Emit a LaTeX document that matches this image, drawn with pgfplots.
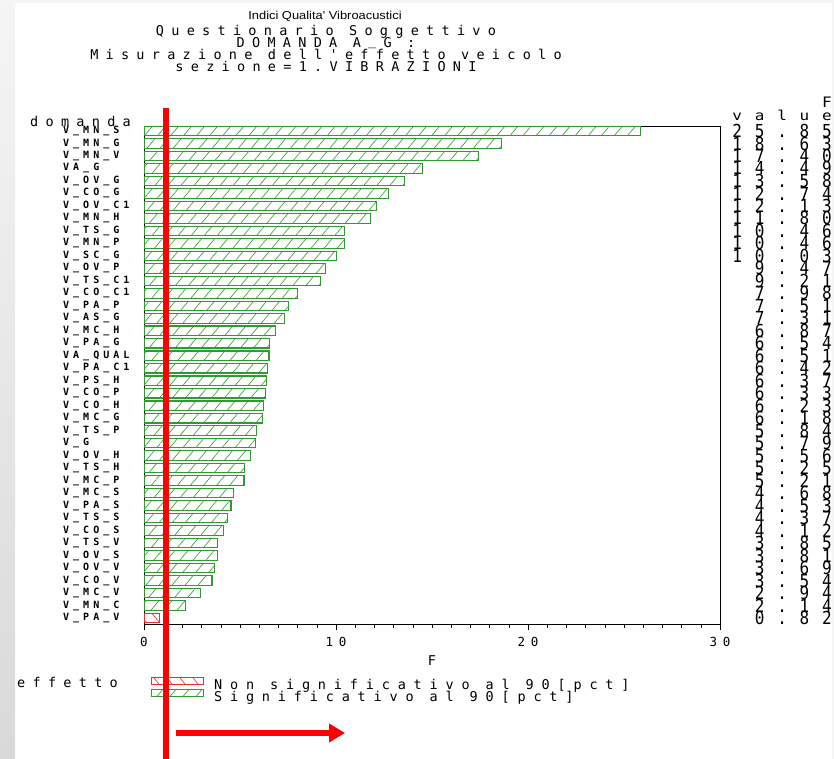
\documentclass[border=0pt]{standalone}
\usepackage{pgfplots}
\pgfplotsset{compat=1.18}
\usepackage{graphicx}
\usepackage{fontspec}
\usetikzlibrary{patterns.meta,arrows.meta}
\newfontfamily\monoA[LetterSpace=54]{DejaVu Sans Mono}
\newfontfamily\monoG[LetterSpace=58]{DejaVu Sans Mono}
\newfontfamily\monoL[LetterSpace=40]{DejaVu Sans Mono}
\newfontfamily\monoT[LetterSpace=44]{DejaVu Sans Mono}
\newfontfamily\monoV[LetterSpace=80]{DejaVu Sans Mono}
\newfontfamily\hsans{Liberation Sans}
\newcommand\fA{\monoA\fontsize{13.5pt}{13pt}\selectfont}
\newcommand\fG{\monoG\fontsize{13.5pt}{13pt}\selectfont}
\newcommand\fL{\monoL\bfseries\fontsize{10pt}{10pt}\selectfont}
\newcommand\fT{\monoT\fontsize{12.5pt}{12.5pt}\selectfont}
\newcommand\fV{\monoV\fontsize{16pt}{16pt}\selectfont}
\definecolor{sasgreen}{RGB}{45,155,45}
\definecolor{sasred}{RGB}{235,45,45}
\begin{document}
\begin{tikzpicture}[x=1pt,y=1pt]
% background
\fill[white] (0,0) rectangle (834,759);
\shade[top color=black!4, bottom color=black!15] (0,0) rectangle (15,759);
\fill[black!4] (15,756) rectangle (834,759);
\fill[black!4] (832,0) rectangle (834,756);
% titles
\node[font=\hsans\fontsize{11.5pt}{11.5pt}\selectfont, anchor=base, xscale=1.12] at (325,739) {Indici Qualita' Vibroacustici};
\node[font=\fA, anchor=base] at (326,723) {Questionario Soggettivo};
\node[font=\fA, anchor=base] at (326,711) {DOMANDA A\kern0.54em\raisebox{2pt}{\_}\kern0.54em G :};
\node[font=\fA, anchor=base] at (326,699) {Misurazione dell'effetto veicolo};
\node[font=\fA, anchor=base] at (326,687) {sezione=1.VIBRAZIONI};
\node[font=\fA, anchor=base west, inner sep=0pt] at (30,632) {domanda};
\node[font=\fV, anchor=base east, inner sep=0pt, yscale=0.9] at (832,651) {F};
\node[font=\fV, anchor=base east, inner sep=0pt, yscale=0.85] at (832,638) {value};
\node[font=\fA, anchor=base west, inner sep=0pt] at (17,71) {effetto};

\begin{axis}[
  at={(144pt,135pt)}, anchor=south west, scale only axis,
  width=576pt, height=498pt,
  xbar, bar width=9.5pt, bar shift=0pt,
  xmin=0, xmax=30, ymin=0.6, ymax=40.48, y dir=reverse,
  axis line style={black, line width=0.8pt},
  xtick={0,10,20,30}, xticklabels={0,10,20,30}, minor x tick num=9,
  xtick pos=lower, ytick pos=left, tick align=outside,
  major tick length=6pt, minor tick length=4pt,
  tick style={black, line width=0.6pt},
  xticklabel style={font=\fT, anchor=base, yshift=-16pt},
  xlabel={F},
  xlabel style={font=\fA, anchor=base, at={(axis description cs:0.5,-0.0843)}},
  ytick={1,...,40}, ytick style={draw=none},
  yticklabels={V\_MN\_S,V\_MN\_G,V\_MN\_V,VA\_G,V\_OV\_G,V\_CO\_G,V\_OV\_C1,V\_MN\_H,V\_TS\_G,V\_MN\_P,V\_SC\_G,V\_OV\_P,V\_TS\_C1,V\_CO\_C1,V\_PA\_P,V\_AS\_G,V\_MC\_H,V\_PA\_G,VA\_QUAL,V\_PA\_C1,V\_PS\_H,V\_CO\_P,V\_CO\_H,V\_MC\_G,V\_TS\_P,V\_G,V\_OV\_H,V\_TS\_H,V\_MC\_P,V\_MC\_S,V\_PA\_S,V\_TS\_S,V\_CO\_S,V\_TS\_V,V\_OV\_S,V\_OV\_V,V\_CO\_V,V\_MC\_V,V\_MN\_C,V\_PA\_V},
  yticklabel style={font=\fL, anchor=west, inner sep=0pt, xshift=-75pt},
  legend image code/.code={\draw[#1] (0pt,1.5pt) rectangle (52pt,8.5pt);},
  legend cell align=left,
  legend style={at={(axis description cs:0.01215,-0.1055)}, anchor=north west,
    draw=none, fill=none, inner sep=0pt, outer sep=0pt, font=\fG, row sep=-0.5pt,
    nodes={inner sep=0pt, text height=7.5pt, text depth=0pt},
    /tikz/every odd column/.append style={column sep=10pt}},
]
\addplot[xbar, bar shift=0pt, draw=sasred, line width=1.1pt,
  pattern={Lines[angle=-50,distance=10pt,line width=0.6pt]}, pattern color=sasred]
  coordinates {(0.82,40)};
\addlegendentry{Non significativo al 90[pct]}
\addplot[xbar, bar shift=0pt, draw=sasgreen, line width=1.1pt,
  pattern={Lines[angle=50,distance=10pt,line width=0.6pt]}, pattern color=sasgreen]
  coordinates {(25.85,1) (18.63,2) (17.40,3) (14.49,4) (13.58,5) (12.74,6) (12.13,7) (11.80,8)
  (10.46,9) (10.46,10) (10.03,11) (9.47,12) (9.21,13) (7.98,14) (7.51,15) (7.31,16) (6.87,17)
  (6.54,18) (6.51,19) (6.42,20) (6.37,21) (6.33,22) (6.23,23) (6.18,24) (5.84,25) (5.79,26)
  (5.56,27) (5.25,28) (5.21,29) (4.68,30) (4.53,31) (4.37,32) (4.12,33) (3.85,34) (3.81,35)
  (3.69,36) (3.54,37) (2.94,38) (2.14,39)};
\addlegendentry{Significativo al 90[pct]}
\end{axis}

\begin{axis}[
  at={(144pt,135pt)}, anchor=south west, scale only axis,
  width=576pt, height=498pt,
  xmin=0, xmax=30, ymin=0.6, ymax=40.48, y dir=reverse,
  axis line style={draw=none}, xtick=\empty,
  ytick={1,...,40}, yticklabel pos=right, ytick style={draw=none},
  yticklabels={25.85,18.63,17.40,14.49,13.58,12.74,12.13,11.80,10.46,10.46,10.03,9.47,9.21,7.98,7.51,7.31,6.87,6.54,6.51,6.42,6.37,6.33,6.23,6.18,5.84,5.79,5.56,5.25,5.21,4.68,4.53,4.37,4.12,3.85,3.81,3.69,3.54,2.94,2.14,0.82},
  yticklabel style={font=\fV, anchor=east, inner sep=0pt, xshift=112pt, yscale=1.12},
]
\addplot[draw=none] coordinates {(0,1)};
\end{axis}

% red annotation
\draw[red, line width=6pt] (166,651) -- (166,0);
\draw[red, line width=5.5pt, -{Triangle[length=16pt,width=18pt]}] (176,26) -- (345,26);

\pgfresetboundingbox
\path[use as bounding box] (0,0) rectangle (834,759);
\end{tikzpicture}
\end{document}
